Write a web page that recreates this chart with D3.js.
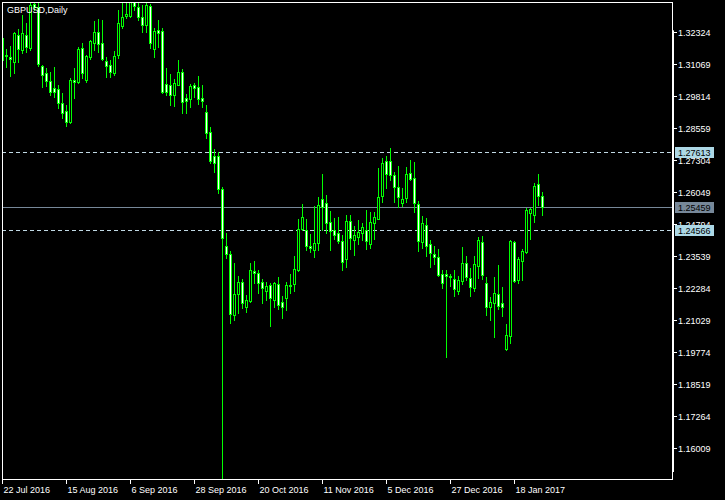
<!DOCTYPE html>
<html><head><meta charset="utf-8">
<script src="https://cdn.jsdelivr.net/npm/d3@7"></script>
<style>html,body{margin:0;padding:0;background:#000;}svg{display:block}</style>
</head><body>
<script>
const chartTitle = "GBPUSD,Daily";
const firstDate = "2016-07-22";
const openP = [1.3210,1.3143,1.3136,1.3116,1.3222,1.3163,1.3222,1.3171,1.3343,1.3332,
1.3100,1.3073,1.3041,1.3014,1.3010,1.2955,1.2924,1.2881,1.3045,1.3037,
1.3171,1.3045,1.3136,1.3190,1.3234,1.3190,1.3120,1.3104,1.3073,1.3143,
1.3257,1.3296,1.3296,1.3371,1.3332,1.3292,1.3261,1.3336,1.3167,1.3241,
1.3238,1.3030,1.3026,1.2986,1.3026,1.3077,1.2975,1.2971,1.3026,1.3018,
1.2975,1.2920,1.2841,1.2747,1.2747,1.2618,1.2394,1.2363,1.2124,1.2206,
1.2253,1.2155,1.2179,1.2296,1.2288,1.2253,1.2218,1.2241,1.2182,1.2245,
1.2175,1.2190,1.2241,1.2245,1.2300,1.2461,1.2457,1.2394,1.2379,1.2406,
1.2579,1.2563,1.2488,1.2457,1.2445,1.2414,1.2343,1.2492,1.2418,1.2430,
1.2445,1.2457,1.2402,1.2484,1.2500,1.2590,1.2728,1.2728,1.2673,1.2626,
1.2563,1.2582,1.2681,1.2661,1.2559,1.2410,1.2477,1.2402,1.2363,1.2351,
1.2285,1.2285,1.2277,1.2265,1.2218,1.2257,1.2328,1.2269,1.2230,1.2316,
1.2410,1.2249,1.2155,1.2171,1.2206,1.2171,1.1990,1.2041,1.2410,1.2261,
1.2336,1.2371,1.2524,1.2516,1.2637,1.2590];
const highP = [1.3222,1.3167,1.3179,1.3234,1.3245,1.3300,1.3269,1.3371,1.3379,1.3367,
1.3104,1.3092,1.3077,1.3096,1.3026,1.2994,1.2947,1.3053,1.3092,1.3175,
1.3190,1.3143,1.3202,1.3277,1.3285,1.3281,1.3136,1.3124,1.3159,1.3320,
1.3347,1.3347,1.3440,1.3400,1.3347,1.3340,1.3347,1.3343,1.3249,1.3281,
1.3249,1.3092,1.3069,1.3049,1.3124,1.3088,1.2990,1.3030,1.3034,1.3061,
1.3026,1.2947,1.2861,1.2775,1.2763,1.2626,1.2445,1.2375,1.2328,1.2277,
1.2265,1.2202,1.2328,1.2336,1.2300,1.2265,1.2253,1.2249,1.2253,1.2273,
1.2198,1.2253,1.2285,1.2355,1.2500,1.2559,1.2500,1.2441,1.2551,1.2586,
1.2677,1.2594,1.2532,1.2504,1.2508,1.2437,1.2516,1.2516,1.2473,1.2496,
1.2484,1.2535,1.2528,1.2528,1.2700,1.2739,1.2747,1.2779,1.2685,1.2708,
1.2622,1.2704,1.2732,1.2724,1.2571,1.2512,1.2504,1.2418,1.2394,1.2383,
1.2300,1.2300,1.2285,1.2300,1.2277,1.2390,1.2355,1.2308,1.2355,1.2430,
1.2433,1.2273,1.2194,1.2273,1.2320,1.2234,1.2088,1.2418,1.2414,1.2351,
1.2383,1.2543,1.2543,1.2641,1.2677,1.2606];
const lowP = [1.3112,1.3096,1.3061,1.3073,1.3116,1.3151,1.3155,1.3163,1.3320,1.3100,
1.3018,1.3022,1.2986,1.2979,1.2935,1.2896,1.2865,1.2877,1.2975,1.3034,
1.3053,1.3037,1.3128,1.3163,1.3155,1.3124,1.3057,1.3057,1.3065,1.3132,
1.3249,1.3289,1.3292,1.3320,1.3281,1.3234,1.3234,1.3171,1.3136,1.3175,
1.2994,1.2986,1.2947,1.2943,1.3026,1.2916,1.2916,1.2939,1.2979,1.2951,
1.2939,1.2818,1.2720,1.2685,1.2602,1.1440,1.2347,1.2092,1.2104,1.2131,
1.2151,1.2135,1.2175,1.2249,1.2210,1.2171,1.2182,1.2081,1.2155,1.2147,
1.2112,1.2143,1.2210,1.2218,1.2296,1.2457,1.2379,1.2371,1.2351,1.2379,
1.2457,1.2445,1.2379,1.2422,1.2406,1.2300,1.2312,1.2383,1.2359,1.2402,
1.2418,1.2383,1.2386,1.2422,1.2500,1.2567,1.2622,1.2653,1.2567,1.2547,
1.2551,1.2567,1.2653,1.2528,1.2375,1.2386,1.2355,1.2312,1.2324,1.2277,
1.2230,1.1959,1.2237,1.2198,1.2206,1.2245,1.2261,1.2198,1.2218,1.2269,
1.2265,1.2124,1.2104,1.2037,1.2147,1.2120,1.1986,1.2014,1.2253,1.2249,
1.2261,1.2367,1.2422,1.2488,1.2555,1.2516];
const closeP = [1.3124,1.3140,1.3128,1.3230,1.3167,1.3230,1.3175,1.3340,1.3332,1.3108,
1.3065,1.3041,1.2998,1.2998,1.2955,1.2916,1.2881,1.3045,1.3037,1.3167,
1.3073,1.3140,1.3198,1.3234,1.3186,1.3128,1.3100,1.3077,1.3140,1.3269,
1.3292,1.3304,1.3351,1.3336,1.3292,1.3261,1.3340,1.3190,1.3238,1.3230,
1.2998,1.2998,1.2986,1.3034,1.3077,1.2959,1.2963,1.3022,1.3014,1.2971,
1.2963,1.2837,1.2728,1.2720,1.2618,1.2426,1.2363,1.2128,1.2206,1.2253,
1.2171,1.2182,1.2300,1.2288,1.2249,1.2230,1.2237,1.2190,1.2249,1.2163,
1.2155,1.2241,1.2237,1.2304,1.2461,1.2508,1.2394,1.2386,1.2406,1.2555,
1.2547,1.2484,1.2453,1.2437,1.2414,1.2332,1.2492,1.2426,1.2437,1.2449,
1.2469,1.2414,1.2488,1.2508,1.2586,1.2720,1.2677,1.2673,1.2626,1.2586,
1.2579,1.2677,1.2657,1.2563,1.2414,1.2484,1.2394,1.2367,1.2351,1.2281,
1.2249,1.2277,1.2273,1.2226,1.2261,1.2328,1.2273,1.2234,1.2324,1.2418,
1.2281,1.2155,1.2175,1.2210,1.2159,1.2155,1.2045,1.2414,1.2257,1.2343,
1.2375,1.2535,1.2539,1.2630,1.2590,1.25459];
const priceTicks = [1.32324,1.31069,1.29814,1.28559,1.27304,1.26049,1.24794,1.23539,1.22284,1.21029,1.19774,1.18519,1.17264,1.16009];
const dateTicks = ["2016-07-22","2016-08-15","2016-09-06","2016-09-28","2016-10-20","2016-11-11","2016-12-05","2016-12-27","2017-01-18"];
const levelLines = [1.27613, 1.24566];
const bidPrice = 1.25459;

const W = 725, H = 500;
const L = 2, T = 2, R = 672, B = 479;
const n = closeP.length;

const parse = d3.timeParse("%Y-%m-%d");
const fmtKey = d3.timeFormat("%Y-%m-%d");
const fmtLbl = d3.timeFormat("%-d %b %Y");
const dates = [];
for (let d = parse(firstDate); dates.length < n; d = d3.timeDay.offset(d, 1)) {
  if (d.getDay() !== 0 && d.getDay() !== 6) dates.push(d);
}
const keyIndex = new Map(dates.map((d, i) => [fmtKey(d), i]));

const x = d3.scaleLinear().domain([0, n - 1]).range([2.5, 2.5 + 4 * (n - 1)]);
const y = d3.scaleLinear().domain([1.16009, 1.32324]).range([448.3, 32.3]);

const svg = d3.select("body").append("svg").attr("width", W).attr("height", H)
  .style("font-family", "'Liberation Sans', Arial, sans-serif").style("font-size", "9px");
svg.append("rect").attr("width", W).attr("height", H).attr("fill", "#000");
svg.append("clipPath").attr("id", "clip").append("rect")
  .attr("x", L + 1).attr("y", T + 1).attr("width", R - L - 1).attr("height", B - T - 1);

// level lines
const lv = svg.append("g").attr("clip-path", "url(#clip)");
levelLines.forEach(v => {
  const yy = Math.round(y(v)) + 0.5;
  lv.append("line").attr("x1", L).attr("x2", R).attr("y1", yy).attr("y2", yy)
    .attr("stroke", "#c0d8e4").attr("stroke-dasharray", "4,3");
});
{
  const yy = Math.round(y(bidPrice)) + 0.5;
  lv.append("line").attr("x1", L).attr("x2", R).attr("y1", yy).attr("y2", yy)
    .attr("stroke", "#778899");
}

// candles
const g = svg.append("g").attr("clip-path", "url(#clip)");
const bars = d3.range(n).map(i => ({i, o: openP[i], h: highP[i], l: lowP[i], c: closeP[i]}));
bars.forEach(b => {
  const cx = x(b.i);
  const yh = Math.round(y(b.h)), yl = Math.round(y(b.l));
  g.append("line").attr("x1", cx).attr("x2", cx).attr("y1", yh).attr("y2", yl + 1)
    .attr("stroke", "#00ff00").attr("stroke-width", 1);
  const top = Math.round(y(Math.max(b.o, b.c))), bot = Math.round(y(Math.min(b.o, b.c)));
  if (bot - top < 1) {
    g.append("line").attr("x1", cx - 1.5).attr("x2", cx + 1.5).attr("y1", top + 0.5).attr("y2", top + 0.5)
      .attr("stroke", "#00ff00");
  } else {
    g.append("rect").attr("x", cx - 1).attr("y", top + 0.5).attr("width", 2).attr("height", bot - top)
      .attr("fill", b.c < b.o ? "#ffffff" : "#000000").attr("stroke", "#00ff00").attr("stroke-width", 1);
  }
});

// frame
svg.append("rect").attr("x", L + 0.5).attr("y", T + 0.5).attr("width", R - L).attr("height", B - T)
  .attr("fill", "none").attr("stroke", "#fff");
svg.append("rect").attr("x", R).attr("y", y(priceTicks[0]) - 2).attr("width", 2)
  .attr("height", 472 - (y(priceTicks[0]) - 2)).attr("fill", "#fff");

// price axis
const pa = svg.append("g");
priceTicks.forEach(v => {
  const yy = Math.round(y(v)) + 0.5;
  pa.append("line").attr("x1", R + 1).attr("x2", R + 5).attr("y1", yy).attr("y2", yy).attr("stroke", "#fff");
  pa.append("text").attr("x", R + 6).attr("y", yy + 3.5).attr("fill", "#fff").text(v.toFixed(5));
});
function priceBox(v, fill) {
  const yy = Math.round(y(v));
  pa.append("rect").attr("x", R + 3).attr("y", yy - 5).attr("width", 39).attr("height", 11).attr("fill", fill);
  pa.append("text").attr("x", R + 6).attr("y", yy + 4).attr("fill", "#000").text(v.toFixed(5));
}
levelLines.forEach(v => priceBox(v, "#add8e6"));
priceBox(bidPrice, "#778899");

// time axis
const ta = svg.append("g");
dateTicks.forEach(k => {
  const i = keyIndex.get(k);
  const xx = Math.floor(x(i)) + 0.5;
  ta.append("line").attr("x1", xx).attr("x2", xx).attr("y1", B).attr("y2", B + 5).attr("stroke", "#fff");
  ta.append("text").attr("x", xx + 1).attr("y", 492.5).attr("fill", "#fff").text(fmtLbl(dates[i]));
});

// title
svg.append("text").attr("x", 7).attr("y", 13).attr("fill", "#fff").text(chartTitle);
</script>
</body></html>
